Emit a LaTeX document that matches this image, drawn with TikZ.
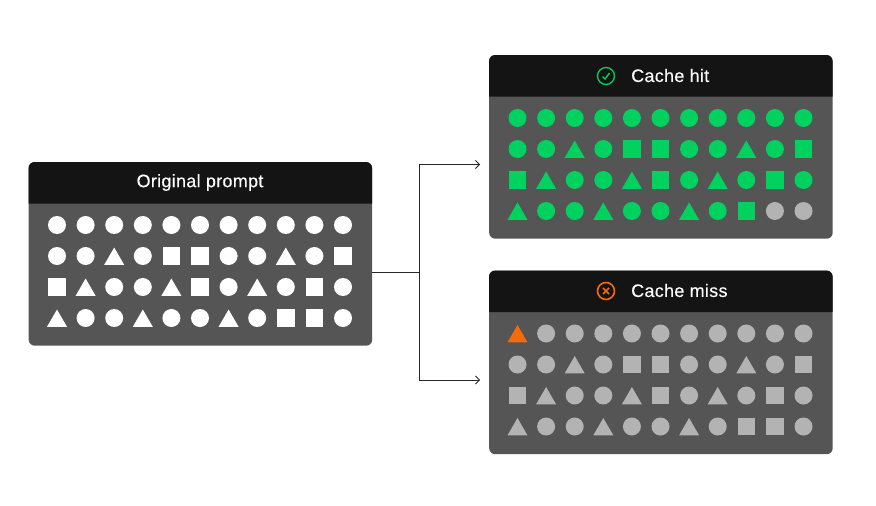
\documentclass[tikz,border=0pt]{standalone}
\usepackage{fontspec}
\setmainfont{Liberation Sans}
\newfontfamily\titlefont[FakeBold=0.25,LetterSpace=1.6]{Liberation Sans}
\usetikzlibrary{arrows.meta,shapes.geometric}
\definecolor{headdark}{HTML}{141414}
\definecolor{bodygrey}{HTML}{555555}
\definecolor{hitgreen}{HTML}{00D15F}
\definecolor{missgrey}{HTML}{B3B3B3}
\definecolor{missorange}{HTML}{F56A0A}
\tikzset{
  panelbody/.style={fill=bodygrey, rounded corners=6, minimum width=343.5, minimum height=183.5, inner sep=0},
  paneltitle/.style={text=white, font=\titlefont\fontsize{18}{20}\selectfont, inner sep=0},
  circ/.style={circle, fill=\shapecol, minimum size=18, inner sep=0},
  sqr/.style={rectangle, fill=\shapecol, minimum size=17.5, inner sep=0},
  tri/.style={regular polygon, regular polygon sides=3, fill=\shapecol, minimum size=23, inner sep=0, yshift=-3},
  circgrey/.style={circ, fill=missgrey},
  triorange/.style={tri, fill=missorange},
  wire/.style={draw=black!85, line width=0.8},
}

% one panel: name, left x, top y
\newcommand{\panelbox}[3]{
  \node (#1) [panelbody, anchor=north west] at (#2,#3) {};
  \fill[headdark] (#2,#3+41.5) {[rounded corners=6] -- (#2,#3) -- (#2+343.5,#3)} -- (#2+343.5,#3+41.5) -- cycle;
}
% shape grid: prefix, left x, top y, rows
\newcommand{\shapegrid}[4]{
  \foreach \kinds [count=\r] in {#4} {
    \foreach \k [count=\c] in \kinds {
      \node (#1-\r-\c) [\k] at (#2+28.6*\c-28.6,#3+31*\r-31) {};
    }
  }
}

\begin{document}
\begin{tikzpicture}[x=1pt, y=-1pt]
\useasboundingbox (0,0) rectangle (876,506);

% Panels
\panelbox{orig}{28.5}{162}
\panelbox{hit}{489}{55}
\panelbox{miss}{489}{270.5}

% Titles
\node (origtitle) [paneltitle] at (200,182.5) {Original prompt};
\node (hittitle) [paneltitle, anchor=west] at (631,75.5) {Cache hit};
\node (misstitle) [paneltitle, anchor=west] at (631,290.5) {Cache miss};

% Icons
\node (hiticon) [circle, draw=hitgreen, line width=1.3, minimum size=17, inner sep=0] at (606,76) {};
\draw[hitgreen, line width=1.4] ([shift={(-3.5,0.5)}]hiticon.center) -- ([shift={(-1,3)}]hiticon.center) -- ([shift={(3.5,-3)}]hiticon.center);
\node (missicon) [circle, draw=missorange, line width=1.6, minimum size=17, inner sep=0] at (606,291) {};
\draw[missorange, line width=1.6] ([shift={(-3,-3)}]missicon.center) -- ([shift={(3,3)}]missicon.center);
\draw[missorange, line width=1.6] ([shift={(-3,3)}]missicon.center) -- ([shift={(3,-3)}]missicon.center);

% Shapes
\def\shapecol{white}
\shapegrid{o}{57}{225}{
  {circ,circ,circ,circ,circ,circ,circ,circ,circ,circ,circ},
  {circ,circ,tri,circ,sqr,sqr,circ,circ,tri,circ,sqr},
  {sqr,tri,circ,circ,tri,sqr,circ,tri,circ,sqr,circ},
  {tri,circ,circ,tri,circ,circ,tri,circ,sqr,sqr,circ}}
\def\shapecol{hitgreen}
\shapegrid{h}{517.5}{118}{
  {circ,circ,circ,circ,circ,circ,circ,circ,circ,circ,circ},
  {circ,circ,tri,circ,sqr,sqr,circ,circ,tri,circ,sqr},
  {sqr,tri,circ,circ,tri,sqr,circ,tri,circ,sqr,circ},
  {tri,circ,circ,tri,circ,circ,tri,circ,sqr,circgrey,circgrey}}
\def\shapecol{missgrey}
\shapegrid{m}{517.5}{333.5}{
  {triorange,circ,circ,circ,circ,circ,circ,circ,circ,circ,circ},
  {circ,circ,tri,circ,sqr,sqr,circ,circ,tri,circ,sqr},
  {sqr,tri,circ,circ,tri,sqr,circ,tri,circ,sqr,circ},
  {tri,circ,circ,tri,circ,circ,tri,circ,sqr,sqr,circ}}

% Connectors
\coordinate (origout) at (372,272.5);
\coordinate (fork) at (419,272.5);
\coordinate (hitin) at (480,164.5);
\coordinate (missin) at (480,380);
\draw[wire] (origout) -- (fork);
\draw[wire, -{Straight Barb[length=4,width=8]}] (fork) |- (hitin);
\draw[wire, -{Straight Barb[length=4,width=8]}] (fork) |- (missin);

\end{tikzpicture}
\end{document}
